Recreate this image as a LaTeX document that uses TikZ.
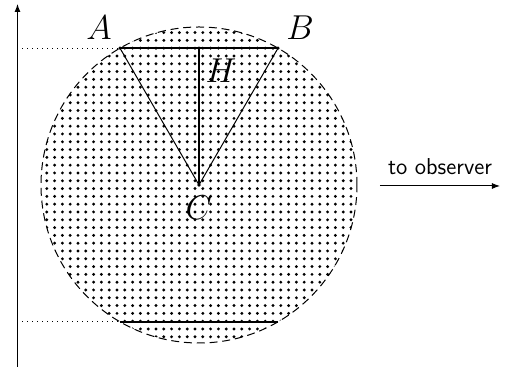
\documentclass[tikz,border=0pt]{standalone}
\usepackage{tikz}
\usetikzlibrary{calc, arrows.meta, patterns.meta}

\begin{document}
\begin{tikzpicture}[
  x=0.5pt, y=0.5pt,
  sphere/.style={dash pattern=on 4pt off 2.4pt, line width=0.5pt},
  chord/.style={line width=0.8pt},
  ray/.style={line width=0.5pt},
  guide/.style={dotted, line width=0.5pt},
  arrow/.style={-{Latex[length=4pt, width=3pt]}, line width=0.5pt},
  lbl/.style={font=\fontsize{17}{19}\selectfont, inner sep=0pt},
  pt/.style={circle, fill, inner sep=0pt, minimum size=1.8pt}
]
\useasboundingbox (0,0) rectangle (505,368);

\coordinate (C) at (199,183);
\coordinate (A) at ($(C)+(120:158)$);
\coordinate (B) at ($(C)+(60:158)$);
\coordinate (A2) at ($(C)+(-120:158)$);
\coordinate (B2) at ($(C)+(-60:158)$);
\coordinate (H) at ($(A)!0.5!(B)$);

\fill[pattern={Dots[distance=3.9pt, radius=0.8pt]}] (C) circle[radius=158];
\draw[sphere] (C) circle[radius=158];

\coordinate (ax0) at (17.5,1);
\coordinate (ax1) at (17.5,364);
\draw[arrow] (ax0) -- (ax1);
\draw[guide] (A -| ax0) -- (A);
\draw[guide] (A2 -| ax0) -- (A2);

\draw[chord] (A) -- (B);
\draw[chord] (A2) -- (B2);
\draw[ray] (A) -- (C) -- (B);
\draw[ray, line width=0.7pt] (C) -- (H);

\node[pt] (pA) at (A) {};
\node[pt] (pB) at (B) {};
\node[pt] (pC) at (C) {};
\node[pt] (pH) at (H) {};

\node[lbl] (lA) at (99,340) {$A$};
\node[lbl] (lB) at (300,340) {$B$};
\node[lbl] (lC) at (199,160) {$C$};
\node[lbl] (lH) at (221,297) {$H$};

\coordinate (o1) at (380,182);
\coordinate (o2) at (500,182);
\draw[arrow] (o1) -- node[above=2pt, font=\sffamily\fontsize{11.5}{13}\selectfont] (obs) {to observer} (o2);
\end{tikzpicture}
\end{document}
